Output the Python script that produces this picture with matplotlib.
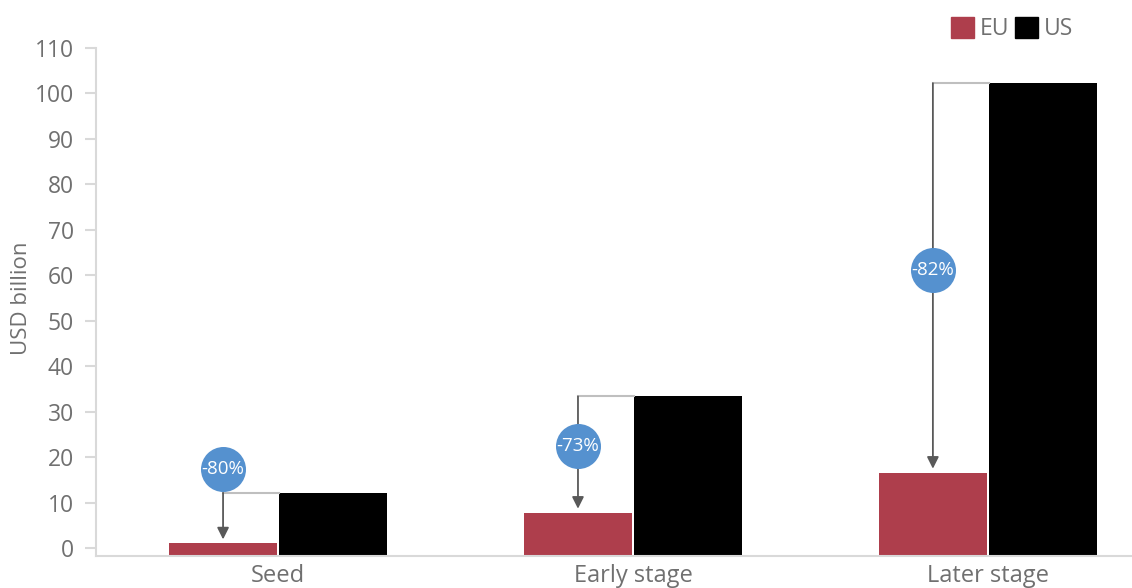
import numpy as np
import matplotlib.pyplot as plt
from matplotlib.patches import Patch

plt.rcParams['font.family'] = ['Open Sans', 'DejaVu Sans']

categories = ["Seed", "Early stage", "Later stage"]
eu_values = [2.75, 9.5, 18.3]
us_values = [13.9, 35.1, 104.0]
gap_labels = ["-80%", "-73%", "-82%"]
badge_y = [19.1, 24.3, 62.8]   # where the % circles sit
y_ticks = list(range(0, 111, 10))

EU_COLOR = '#AE3E4C'
US_COLOR = '#000000'
BADGE = '#5591CF'
TEXT = '#707070'
AXIS = '#D9D9D9'

fig = plt.figure(figsize=(11.32, 5.88), dpi=100)
ax = fig.add_axes([96 / 1132, 1 - 556 / 588, 1 - 96 / 1132, 508 / 588])

x = np.arange(len(categories))
w = 0.304
off = 0.155
ax.bar(x - off, eu_values, w, color=EU_COLOR, zorder=2)
ax.bar(x + off, us_values, w, color=US_COLOR, zorder=2)
ax.set_xlim(-0.513, 2.406)
ax.set_ylim(0, 111.74)

for s in ['top', 'right', 'left']:
    ax.spines[s].set_visible(False)
ax.spines['bottom'].set_color(AXIS)
ax.spines['bottom'].set_linewidth(1.5)
ax.set_yticks([])
ax.set_xticks(x)
ax.set_xticklabels(categories, fontsize=17, color=TEXT)
ax.tick_params(axis='x', length=0, pad=6)

# separate value axis (its zero sits a little above the bar baseline, as in the original)
ax2 = ax.twinx()
ax2.yaxis.tick_left()
ax2.set_ylim(-1.74, 110)
ax2.set_yticks(y_ticks)
ax2.tick_params(axis='y', labelsize=16.5, labelcolor=TEXT, color=AXIS, width=1.5, length=8, pad=8)
for s in ['top', 'right', 'bottom']:
    ax2.spines[s].set_visible(False)
ax2.spines['left'].set_color(AXIS)
ax2.spines['left'].set_linewidth(1.5)
fig.text(22 / 1132, 1 - 298 / 588, "USD billion", rotation=90, fontsize=16,
         color=TEXT, ha='center', va='center')

# gap brackets with % badges
for i in range(len(categories)):
    xe = x[i] - off
    xu = x[i] + off - w / 2
    ax.plot([xe, xu], [us_values[i], us_values[i]], color='#BFBFBF', lw=1.5, zorder=3)
    ax.annotate('', xy=(xe, eu_values[i] + 0.9), xytext=(xe, us_values[i]),
                arrowprops=dict(arrowstyle='-|>,head_length=0.5,head_width=0.25',
                                color='#595959', lw=1.3, mutation_scale=14,
                                shrinkA=0, shrinkB=0), zorder=3)
    ax.scatter(xe, badge_y[i], s=1050, color=BADGE, zorder=5, linewidths=0)
    ax.text(xe, badge_y[i], gap_labels[i], color='white', fontsize=13.5,
            ha='center', va='center', zorder=6)

handles = [Patch(color=EU_COLOR, label='EU'), Patch(color=US_COLOR, label='US')]
ax.legend(handles=handles, ncol=2, frameon=False, fontsize=16.5, labelcolor=TEXT,
          handlelength=1.0, handleheight=1.0, handletextpad=0.25, columnspacing=0.25,
          borderpad=0, borderaxespad=0, loc='upper left',
          bbox_to_anchor=(951 / 1132, 1 - 17 / 588), bbox_transform=fig.transFigure)

fig.savefig('out.png', dpi=100)
